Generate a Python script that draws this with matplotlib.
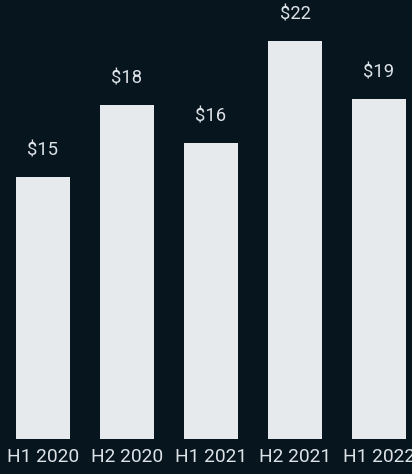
import numpy as np
import matplotlib
matplotlib.use('Agg')
import matplotlib.pyplot as plt

# half-year values; the printed labels are rounded
periods = ['H1 2020', 'H2 2020', 'H1 2021', 'H2 2021', 'H1 2022']
values = [14.4, 18.4, 16.3, 21.9, 18.7]
value_labels = ['$15', '$18', '$16', '$22', '$19']

bg = '#07151f'
bar_color = '#e6eaed'
text_color = '#dde2e6'

plt.rcParams['font.family'] = ['Roboto', 'DejaVu Sans']

fig = plt.figure(figsize=[4.12, 4.74], dpi=100, facecolor=bg)
# axes placed so the baseline sits at y=439px and bars span x=16..406
ax = fig.add_axes([0.0, 35 / 474, 1.0, 1 - 35 / 474])
ax.set_facecolor(bg)

x = np.arange(len(periods))
bars = ax.bar(x, values, width=54 / 84, color=bar_color, linewidth=0)

for b, v, lab in zip(bars, values, value_labels):
    ax.annotate(lab, (b.get_x() + b.get_width() / 2, v),
                xytext=(0, 15.5), textcoords='offset points',
                ha='center', va='baseline', color=text_color, fontsize=13.2)

# x range: bar 1 left edge at 16px, bar 5 right edge at 406px
px = 84.0
ax.set_xlim(-(16 + 27) / px, 4 + (412 - 379) / px)
scale = (439 - 41) / values[3]
ax.set_ylim(0, 439 / scale)

ax.set_xticks(x)
ax.set_xticklabels(periods, color=text_color, fontsize=13.8)
ax.tick_params(axis='x', length=0, pad=6.5)
ax.set_yticks([])
for s in ax.spines.values():
    s.set_visible(False)

fig.savefig('out.png', dpi=100, facecolor=bg)
